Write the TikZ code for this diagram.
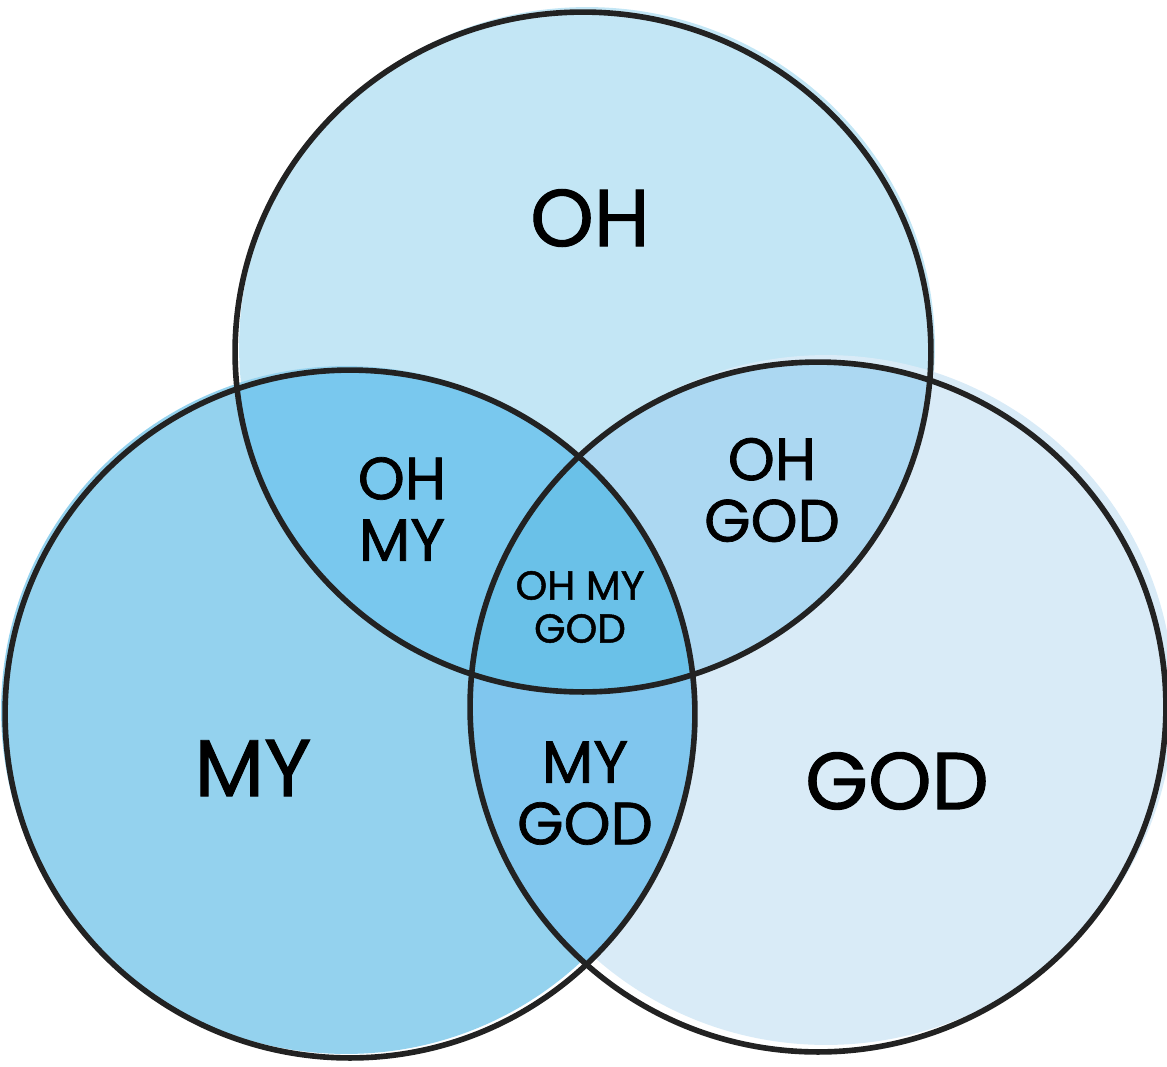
\documentclass[tikz,border=0pt]{standalone}
\usepackage{fontspec}
\setmainfont{Poppins}
\newfontfamily\labelfont{Poppins}[FakeBold=1.2]
\usepackage{tikz}
\definecolor{ohfill}{HTML}{C3E6F5}
\definecolor{myfill}{HTML}{94D2EE}
\definecolor{godfill}{HTML}{D9EBF7}
\definecolor{ohmyfill}{HTML}{79C8EE}
\definecolor{ohgodfill}{HTML}{ACD8F2}
\definecolor{mygodfill}{HTML}{80C6EE}
\definecolor{allfill}{HTML}{6AC1E8}
\definecolor{inkline}{HTML}{222222}
% the three sets, in pixel coordinates (y downwards)
\newcommand{\ohset}{(583,352) ellipse [x radius=6.96cm, y radius=6.80cm]}
\newcommand{\myset}{(350,714) ellipse [x radius=6.90cm, y radius=6.88cm]}
\newcommand{\godset}{(818,707) ellipse [x radius=6.96cm, y radius=6.90cm]}

\begin{document}
\begin{tikzpicture}[
  x=0.02cm, y=-0.02cm,
  every node/.style={align=center, text=black},
  big/.style={font=\labelfont\fontsize{46}{46}\selectfont},
  mid/.style={font=\labelfont\fontsize{34}{35}\selectfont},
  small/.style={font=\labelfont\fontsize{23}{24.5}\selectfont},
  rim/.style={draw=inkline, line width=3.2pt},
]
  \useasboundingbox (0,0) rectangle (1167,1066);

  % sketchy fills, a little off the outlines
  \fill[ohfill, shift={(4,-5)}] \ohset;
  \fill[godfill, shift={(8,-7)}] \godset;
  \fill[myfill, shift={(-4,-4)}] \myset;

  % overlaps
  \begin{scope}
    \clip \ohset;
    \fill[ohmyfill] \myset;
  \end{scope}
  \begin{scope}
    \clip \ohset;
    \fill[ohgodfill] \godset;
  \end{scope}
  \begin{scope}
    \clip \myset;
    \fill[mygodfill] \godset;
  \end{scope}
  \begin{scope}
    \clip \ohset;
    \clip \myset;
    \fill[allfill] \godset;
  \end{scope}

  % outlines
  \draw[rim] \ohset;
  \draw[rim] \myset;
  \draw[rim] \godset;

  \node[big] (oh) at (590,218) {OH};
  \node[big] (my) at (253,768) {MY};
  \node[big] (god) at (897,781) {GOD};
  \node[mid] (ohmy) at (402,509) {OH\\MY};
  \node[mid] (ohgod) at (772,490) {OH\\GOD};
  \node[mid] (mygod) at (585,793) {MY\\GOD};
  \node[small] (ohmygod) at (580,607) {OH MY\\GOD};
\end{tikzpicture}
\end{document}
